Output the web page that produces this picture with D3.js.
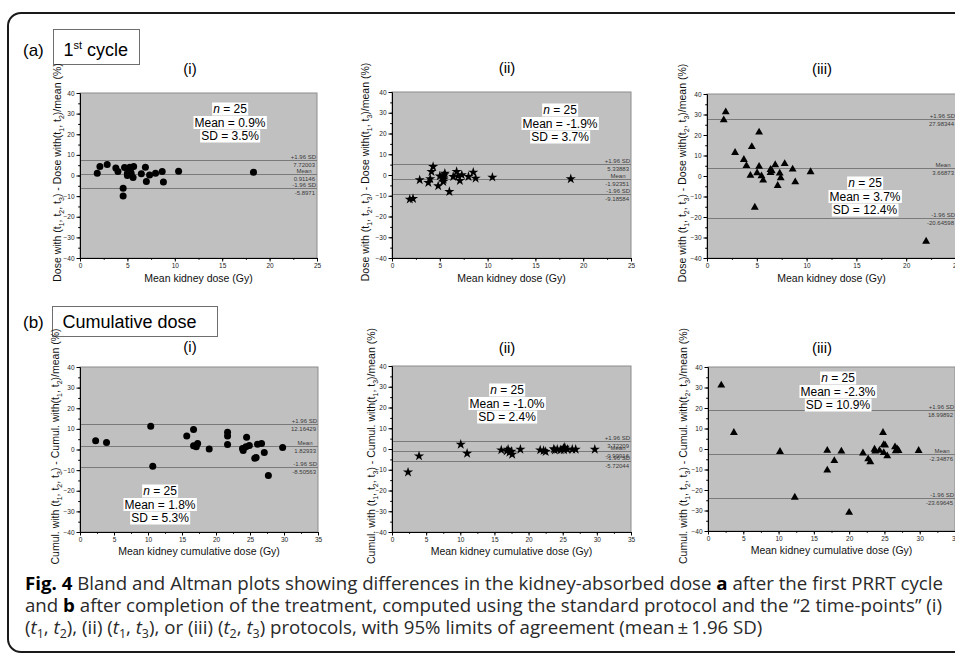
<!DOCTYPE html>
<html>
<head>
<meta charset="utf-8">
<script src="https://cdn.jsdelivr.net/npm/d3@7"></script>
<style>
  body { margin: 0; background: #fff; }
  svg { display: block; }
</style>
</head>
<body>
<svg id="fig" width="955" height="654"></svg>
<script>
// ---- data ----
const cycle1_i_x = [1.82, 2.1, 2.87, 3.78, 4.0, 4.7, 4.55, 4.55, 5.0, 5.0, 5.25, 5.4, 5.6, 5.66, 5.2, 6.47, 6.9, 7.0, 7.34, 7.97, 8.67, 8.8, 10.4, 18.3, 5.3];
const cycle1_i_y = [1.1, 4.4, 5.3, 3.6, 1.9, 3.9, -6.2, -9.9, 1.1, 0, 4.0, 1.1, -1.0, 4.4, 0.5, 0.8, 4.0, -2.9, 0.3, 1.1, 1.9, -3.1, 2.1, 1.6, 2.5];

const cycle1_ii_x = [1.86, 2.2, 2.9, 3.8, 4.0, 4.13, 4.3, 4.83, 5.0, 5.25, 5.36, 5.46, 5.53, 5.4, 6.0, 6.4, 6.76, 7.1, 7.3, 8.0, 8.5, 8.75, 10.5, 18.7, 6.9];
const cycle1_ii_y = [-11.7, -11.4, -2.4, -3.7, -1.9, 1.6, 4.0, -5.3, -0.5, -1.6, -3.2, 0, 0.8, -2.1, -8.0, -0.8, 1.6, -2.7, 0, -0.8, 1.3, -1.6, -1.1, -1.9, -0.5];

const cycle1_iii_x = [1.68, 1.88, 2.82, 3.7, 3.96, 4.36, 4.5, 4.8, 5.03, 5.23, 5.23, 5.47, 5.64, 6.38, 6.38, 6.85, 7.1, 7.3, 7.4, 7.8, 8.6, 8.86, 10.4, 22.0, 6.5];
const cycle1_iii_y = [27.3, 31.2, 11.4, 8.0, 5.0, 0.2, 14.3, -15.3, 1.5, 21.3, 4.6, 0, -2.1, 1.6, 3.1, 5.4, -4.7, 1.3, -1.0, 6.0, 3.3, -2.9, 2.0, -31.9, 2.5];

const cumul_i_x = [2.3, 3.9, 10.4, 10.7, 15.7, 16.7, 16.7, 17.1, 17.3, 19.0, 21.7, 21.7, 21.7, 23.9, 24.0, 24.4, 24.5, 24.9, 25.9, 26.1, 26.7, 27.1, 27.7, 29.8, 25.7];
const cumul_i_y = [4.2, 3.4, 11.3, -8.1, 6.6, 9.7, 1.8, 1.3, 2.9, 0.3, 8.4, 6.6, 2.4, 0.5, -0.5, 1.3, 6.0, 1.9, -3.9, 2.6, 2.9, -1.4, -12.6, 1.0, -4.2];

const cumul_ii_x = [2.35, 3.96, 10.07, 11.0, 16.0, 17.0, 17.2, 17.5, 17.6, 18.8, 21.7, 22.2, 22.5, 23.7, 24.2, 24.7, 25.1, 25.2, 25.7, 26.4, 26.9, 29.7, 25.3, 16.8, 23.85];
const cumul_ii_y = [-11.2, -3.4, 2.2, -2.1, -0.5, -0.2, -1.6, -1.1, -2.6, -0.2, -0.5, -0.8, -1.3, 0, -0.2, -0.5, 0.3, -0.5, -0.2, -0.2, -0.2, -0.2, 0.8, -1.0, -0.6];

const cumul_iii_x = [1.88, 3.67, 10.2, 12.3, 16.9, 16.9, 17.9, 18.9, 20.0, 21.96, 22.7, 23.0, 23.6, 23.7, 24.3, 24.8, 24.9, 24.9, 25.4, 26.5, 26.6, 27.0, 29.85, 25.1, 26.8];
const cumul_iii_y = [31.1, 8.0, -1.3, -23.6, -0.7, -10.4, -5.7, -1.1, -31.0, -2.0, -4.9, -6.3, -0.2, -1.1, -0.7, 8.0, 2.1, -1.8, -3.4, 1.0, -1.0, -0.8, -0.8, 1.8, 0];

// limits of agreement per panel: (a)(i) (a)(ii) (a)(iii) (b)(i) (b)(ii) (b)(iii)
const upperSD = [7.72003, 5.33883, 27.98344, 12.16429, 3.72209, 18.99892];
const meanDiff = [0.91146, -1.92351, 3.66873, 1.82933, -0.99916, -2.34876];
const lowerSD = [-5.8971, -9.18584, -20.64598, -8.50563, -5.72044, -23.69645];
const statMean = ["0.9%", "-1.9%", "3.7%", "1.8%", "-1.0%", "-2.3%"];
const statSD = ["3.5%", "3.7%", "12.4%", "5.3%", "2.4%", "10.9%"];
const statN = 25;

const panelTitles = ["(i)", "(ii)", "(iii)", "(i)", "(ii)", "(iii)"];
const timePairs = [[1, 2], [1, 3], [2, 3], [1, 2], [1, 3], [2, 3]];
const xTicksA = [0, 5, 10, 15, 20, 25];
const xTicksB = [0, 5, 10, 15, 20, 25, 30, 35];
const yTicks = [-40, -30, -20, -10, 0, 10, 20, 30, 40];

const seriesX = [cycle1_i_x, cycle1_ii_x, cycle1_iii_x, cumul_i_x, cumul_ii_x, cumul_iii_x];
const seriesY = [cycle1_i_y, cycle1_ii_y, cycle1_iii_y, cumul_i_y, cumul_ii_y, cumul_iii_y];

// ---- layout ----
const layout = [
  { left: 80,  top: 93, w: 237, h: 165, marker: "circle",   titleX: 190, titleY: 74,  statX: 230, statY: 109, yLabX: 57 },
  { left: 392, top: 92, w: 239, h: 166, marker: "star",     titleX: 507, titleY: 73,  statX: 560, statY: 110, yLabX: 365 },
  { left: 707, top: 94, w: 249, h: 164, marker: "triangle", titleX: 822, titleY: 74,  statX: 865, statY: 183, yLabX: 682 },
  { left: 80,  top: 367, w: 238, h: 165, marker: "circle",  titleX: 190, titleY: 352, statX: 160, statY: 491, yLabX: 55 },
  { left: 392, top: 366, w: 239, h: 166, marker: "star",    titleX: 507, titleY: 353, statX: 507, statY: 390, yLabX: 371 },
  { left: 708, top: 367, w: 247, h: 164, marker: "triangle",titleX: 822, titleY: 353, statX: 838, statY: 378, yLabX: 683 }
];

const FONT = "'Liberation Sans', Arial, sans-serif";
const svg = d3.select("#fig");

// outer frame
svg.append("rect")
  .attr("x", 8).attr("y", 13)
  .attr("width", 970).attr("height", 639)
  .attr("rx", 13)
  .attr("fill", "none")
  .attr("stroke", "#1a1a1a")
  .attr("stroke-width", 2);

// section headers
function sectionHeader(letter, boxX, boxY, boxW, boxH, baseY, parts) {
  svg.append("text")
    .attr("x", 23).attr("y", baseY)
    .attr("font-family", FONT).attr("font-size", 17)
    .text(letter);
  svg.append("rect")
    .attr("x", boxX).attr("y", boxY).attr("width", boxW).attr("height", boxH)
    .attr("fill", "#fff").attr("stroke", "#6e6e6e").attr("stroke-width", 1);
  const t = svg.append("text")
    .attr("x", boxX + 10).attr("y", baseY)
    .attr("font-family", FONT).attr("font-size", 18);
  parts(t);
}

sectionHeader("(a)", 53.5, 29.5, 86, 35, 56, t => {
  t.append("tspan").text("1");
  t.append("tspan").attr("dy", -7).attr("font-size", 11).text("st");
  t.append("tspan").attr("dy", 7).text(" cycle");
});
sectionHeader("(b)", 52.5, 306.5, 165, 30, 328, t => {
  t.text("Cumulative dose");
});

// rotated y label with subscripts
function yLabel(g, x, y, word, pair) {
  const t = g.append("text")
    .attr("transform", `translate(${x},${y}) rotate(-90)`)
    .attr("text-anchor", "middle")
    .attr("font-family", FONT)
    .attr("font-size", 10.5)
    .attr("fill", "#111");
  const pieces = [
    [word + " with (t", false], ["1", true], [", t", false], ["2", true], [", t", false], ["3", true],
    [") - " + word + " with(t", false], [String(pair[0]), true], [", t", false], [String(pair[1]), true],
    [")/mean (%)", false]
  ];
  let shifted = false;
  pieces.forEach(([txt, sub]) => {
    const s = t.append("tspan").text(txt);
    if (sub) { s.attr("dy", 2.5).attr("font-size", 7); shifted = true; }
    else if (shifted) { s.attr("dy", -2.5); shifted = false; }
  });
}

function drawPanel(i) {
  const p = layout[i];
  const cumulative = i >= 3;
  const xTicks = cumulative ? xTicksB : xTicksA;
  const xmax = xTicks[xTicks.length - 1];
  const g = svg.append("g");

  const x = d3.scaleLinear().domain([0, xmax]).range([p.left, p.left + p.w]);
  const y = d3.scaleLinear().domain([-40, 40]).range([p.top + p.h, p.top]);

  g.append("rect")
    .attr("x", p.left).attr("y", p.top)
    .attr("width", p.w).attr("height", p.h)
    .attr("fill", "#c0c0c0")
    .attr("stroke", "#8c8c8c").attr("stroke-width", 1);

  // limits of agreement
  const lines = [
    { v: upperSD[i], name: "+1.96 SD" },
    { v: meanDiff[i], name: "Mean" },
    { v: lowerSD[i], name: "-1.96 SD" }
  ];
  const right = p.left + p.w;
  lines.forEach(l => {
    const yy = Math.round(y(l.v)) + 0.5;
    g.append("line")
      .attr("x1", p.left).attr("x2", right)
      .attr("y1", yy).attr("y2", yy)
      .attr("stroke", "#7a7a7a").attr("stroke-width", 1);
    g.append("text")
      .attr("x", l.name === "Mean" ? right - 13 : right - 1)
      .attr("y", yy - 2)
      .attr("text-anchor", l.name === "Mean" ? "middle" : "end")
      .attr("font-family", FONT).attr("font-size", 6)
      .attr("fill", "#3a3a3a")
      .text(l.name);
    g.append("text")
      .attr("x", right - 2)
      .attr("y", yy + 6.5)
      .attr("text-anchor", "end")
      .attr("font-family", FONT).attr("font-size", 6)
      .attr("fill", "#3a3a3a")
      .text(String(l.v));
  });

  // markers
  const pts = seriesX[i].map((vx, k) => ({ x: vx, y: seriesY[i][k] }));
  if (p.marker === "circle") {
    g.selectAll(null).data(pts).join("circle")
      .attr("cx", d => x(d.x)).attr("cy", d => y(d.y))
      .attr("r", 3.5).attr("fill", "#000");
  } else {
    const sym = p.marker === "star"
      ? d3.symbol().type(d3.symbolStar).size(32)
      : d3.symbol().type(d3.symbolTriangle).size(27);
    g.selectAll(null).data(pts).join("path")
      .attr("transform", d => `translate(${x(d.x)},${y(d.y)})`)
      .attr("d", sym)
      .attr("fill", "#000");
  }

  // axes
  const minorX = d3.range(0, xmax + 0.01, 2.5);
  const minorY = d3.range(-40, 40.01, 5);
  const axisStyle = sel => {
    sel.selectAll("path").attr("stroke", "#000");
    sel.selectAll("line").attr("stroke", "#000");
    sel.selectAll("text").attr("font-family", FONT).attr("font-size", 6.5).attr("fill", "#222");
  };
  g.append("g").attr("transform", `translate(0,${p.top + p.h})`)
    .call(d3.axisBottom(x).tickValues(minorX).tickSize(1.8).tickFormat("").tickSizeOuter(0));
  g.append("g").attr("transform", `translate(0,${p.top + p.h})`)
    .call(d3.axisBottom(x).tickValues(xTicks).tickSize(3.5).tickPadding(2).tickSizeOuter(0))
    .call(axisStyle);
  g.append("g").attr("transform", `translate(${p.left},0)`)
    .call(d3.axisLeft(y).tickValues(minorY).tickSize(1.8).tickFormat("").tickSizeOuter(0));
  g.append("g").attr("transform", `translate(${p.left},0)`)
    .call(d3.axisLeft(y).tickValues(yTicks).tickSize(3.5).tickPadding(2).tickSizeOuter(0))
    .call(axisStyle);
  g.selectAll(".domain").attr("stroke", "#000");

  // labels
  g.append("text")
    .attr("x", p.titleX).attr("y", p.titleY)
    .attr("text-anchor", "middle")
    .attr("font-family", FONT).attr("font-size", 15)
    .text(panelTitles[i]);

  g.append("text")
    .attr("x", p.left + p.w / 2)
    .attr("y", p.top + p.h + (cumulative ? 22.5 : 24))
    .attr("text-anchor", "middle")
    .attr("font-family", FONT).attr("font-size", 10.5)
    .attr("fill", "#111")
    .text(cumulative ? "Mean kidney cumulative dose (Gy)" : "Mean kidney dose (Gy)");

  yLabel(g, p.yLabX + 4, p.top + p.h / 2 - 3, cumulative ? "Cumul." : "Dose", timePairs[i]);

  // statistics box, one white strip per line
  const rows = [
    t => { t.append("tspan").attr("font-style", "italic").text("n"); t.append("tspan").text(" = " + statN); },
    t => t.text("Mean = " + statMean[i]),
    t => t.text("SD = " + statSD[i])
  ];
  rows.forEach((fill, k) => {
    const cy = p.statY + k * 13.5;
    const bg = g.append("rect").attr("fill", "#fff");
    const t = g.append("text")
      .attr("x", p.statX).attr("y", cy + 4)
      .attr("text-anchor", "middle")
      .attr("font-family", FONT).attr("font-size", 12)
      .attr("fill", "#000");
    fill(t);
    const b = t.node().getBBox();
    bg.attr("x", b.x - 1).attr("y", cy - 6.5).attr("width", b.width + 2).attr("height", 13);
  });
}

layout.forEach((_, i) => drawPanel(i));

// caption: lines 1 and 2 are stretched to the reference width, line 3 gets the same squeeze
const CAP = "'Open Sans', 'Noto Sans', sans-serif";
function captionLine(y, parts) {
  const t = svg.append("text")
    .attr("x", 25).attr("y", y)
    .attr("font-family", CAP).attr("font-size", 18)
    .attr("fill", "#2a2a2a");
  parts.forEach(([txt, style]) => {
    const s = t.append("tspan").text(txt);
    if (style === "b") s.attr("font-weight", "bold").attr("fill", "#000");
    if (style === "i") s.attr("font-style", "italic");
    if (style === "sub") s.attr("font-size", 12).attr("dy", 4);
    if (style === "up") s.attr("dy", -4);
  });
  return t;
}

const cap1 = captionLine(590, [
  ["Fig. 4", "b"], [" Bland and Altman plots showing differences in the kidney-absorbed dose "],
  ["a", "b"], [" after the first PRRT cycle"]
]);
const cap2 = captionLine(612, [
  ["and "], ["b", "b"], [" after completion of the treatment, computed using the standard protocol and the \u201c2 time-points\u201d (i)"]
]);
const cap3 = captionLine(634, [
  ["("], ["t", "i"], ["1", "sub"], [", ", "up"], ["t", "i"], ["2", "sub"], ["), (ii) (", "up"], ["t", "i"], ["1", "sub"],
  [", ", "up"], ["t", "i"], ["3", "sub"], ["), or (iii) (", "up"], ["t", "i"], ["2", "sub"], [", ", "up"], ["t", "i"], ["3", "sub"],
  [") protocols, with 95% limits of agreement (mean\u2009\u00b1\u20091.96 SD)", "up"]
]);
const squeeze = 918 / cap1.node().getComputedTextLength();
[[cap1, 918], [cap2, 917]].forEach(([t, len]) => t.attr("textLength", len).attr("lengthAdjust", "spacingAndGlyphs"));
cap3.attr("textLength", cap3.node().getComputedTextLength() * squeeze).attr("lengthAdjust", "spacingAndGlyphs");
</script>
</body>
</html>
